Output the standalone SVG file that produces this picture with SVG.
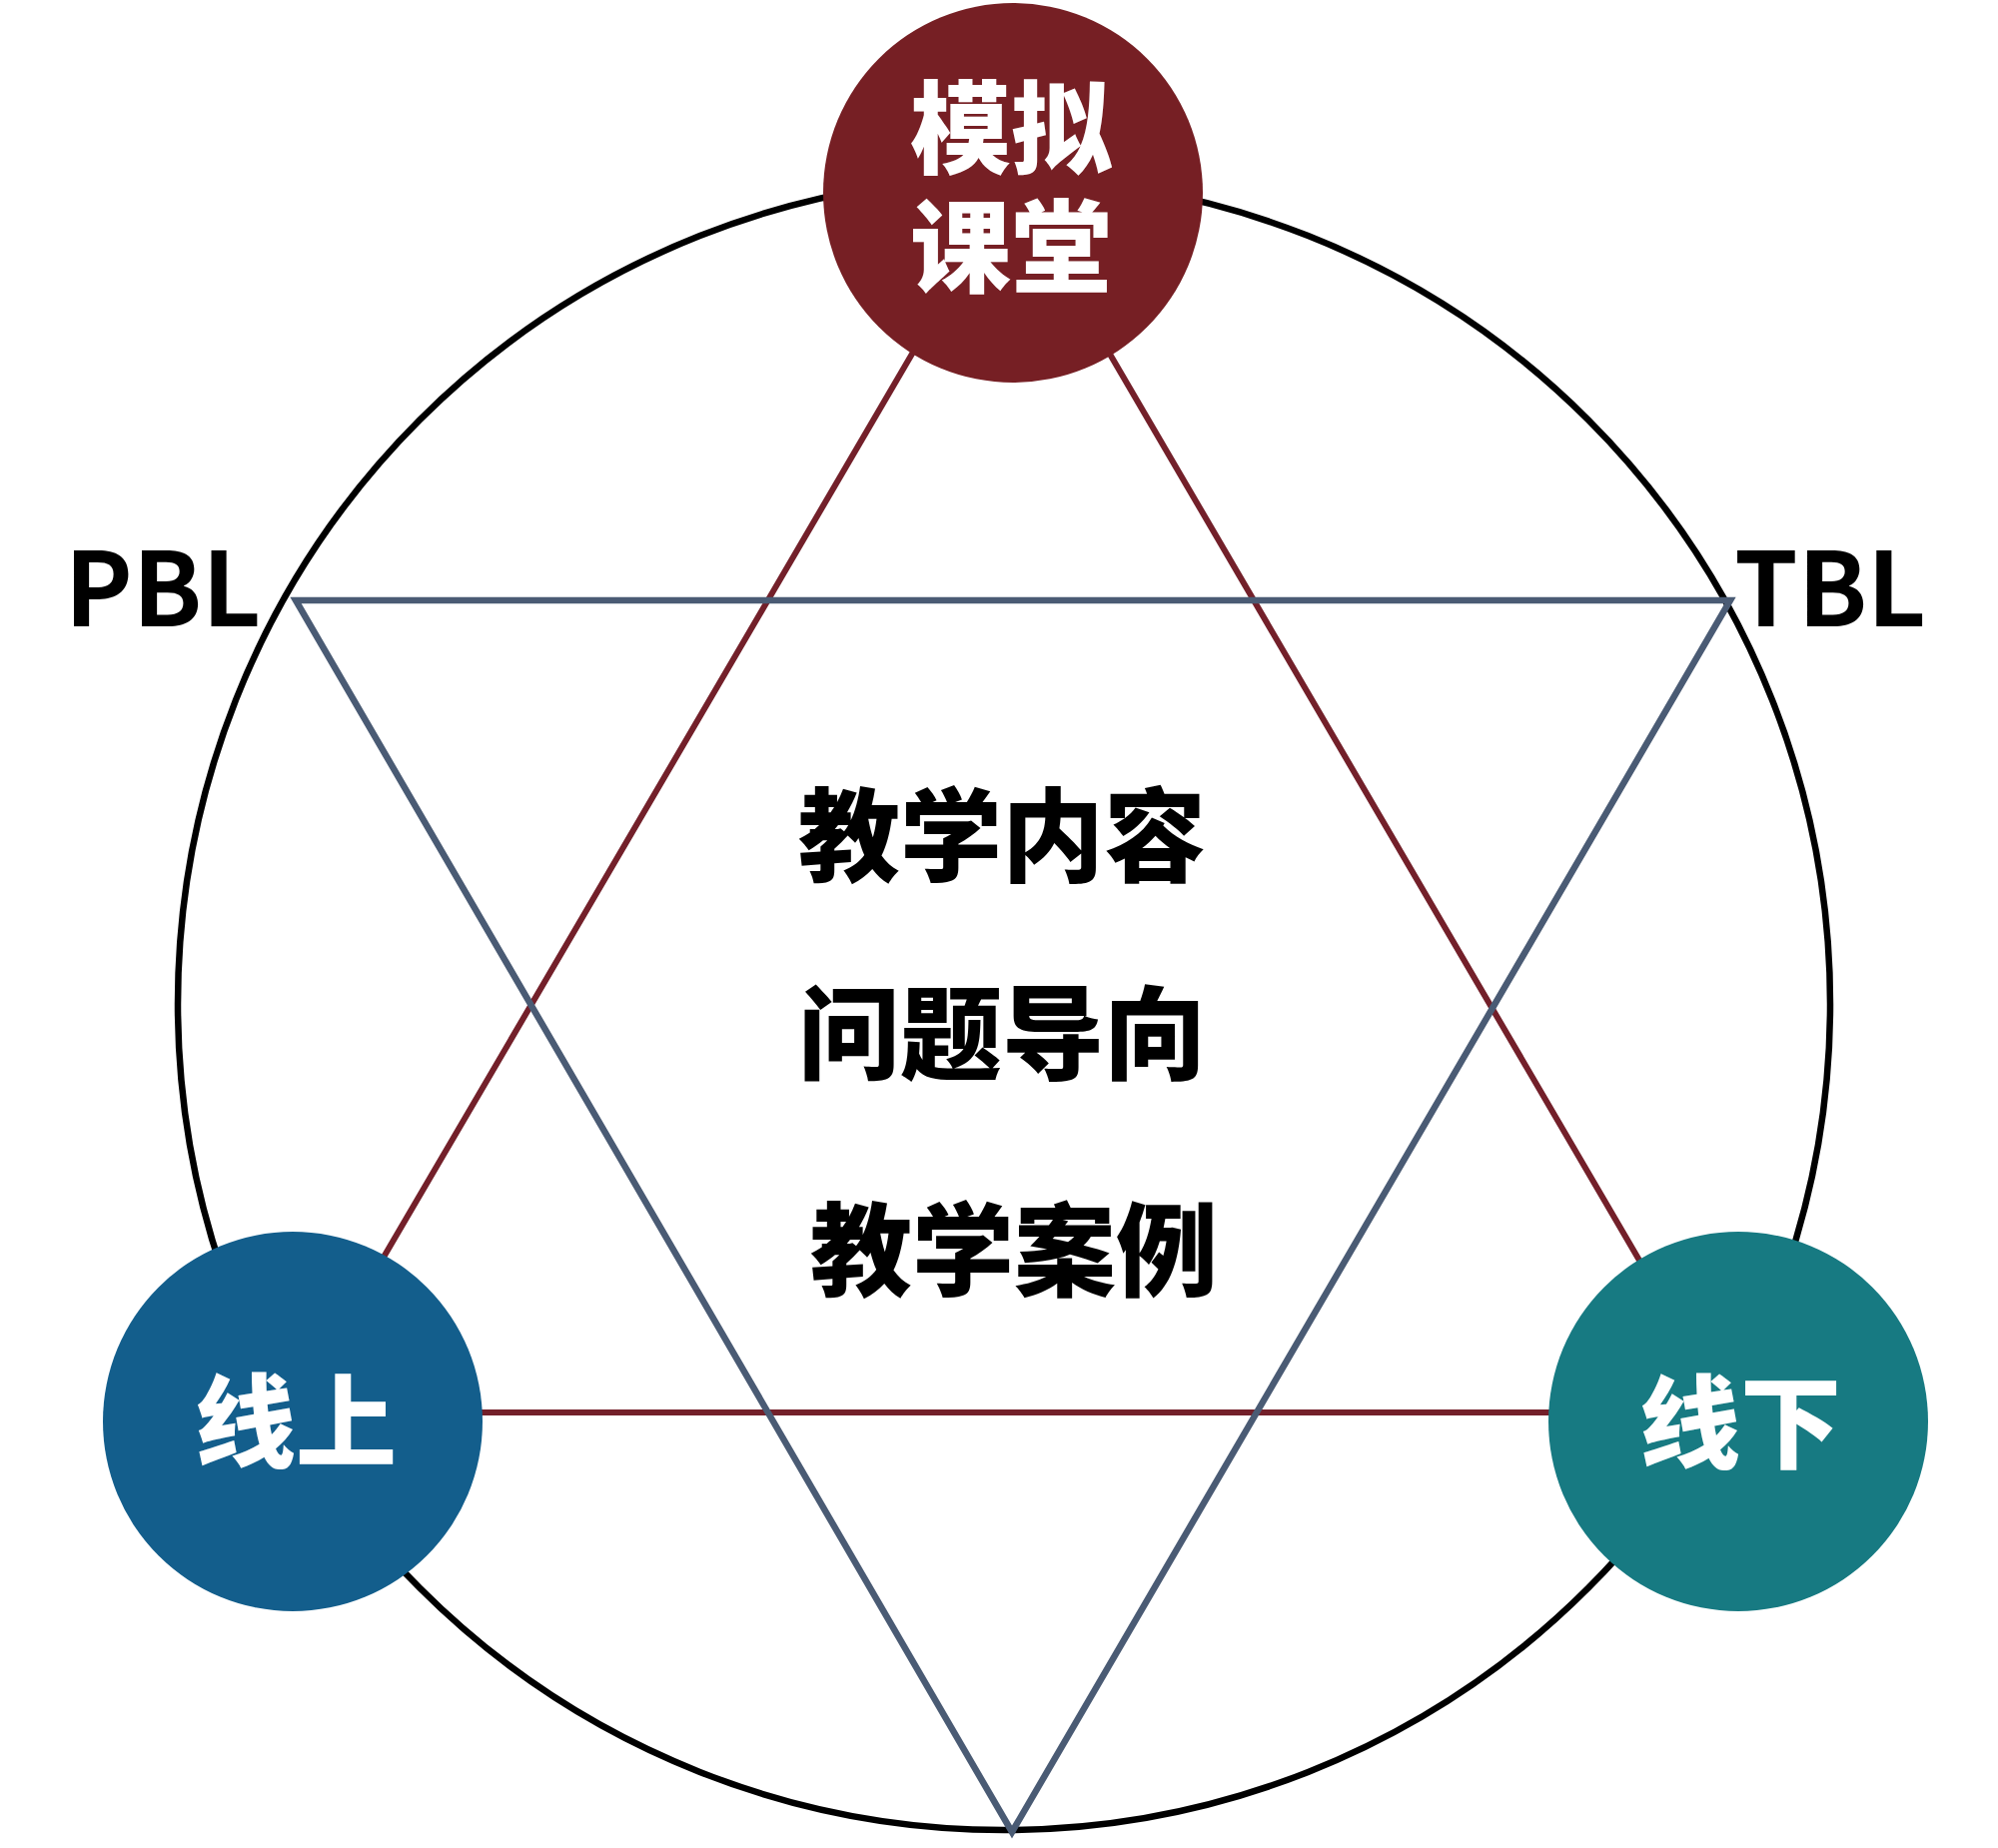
<svg xmlns="http://www.w3.org/2000/svg" width="2000" height="1850" viewBox="0 0 2000 1850">
<style>
.t{font-family:"Noto Sans CJK SC","Noto Sans",sans-serif;font-weight:900;text-anchor:middle}
.w{fill:#ffffff;font-size:101px}
.k{fill:#000000;font-size:102px}
.lab{fill:#000000;font-size:102px;font-weight:700}
.blue{fill:none;stroke:#4a5b74;stroke-width:6.5;stroke-linejoin:miter}
.red{fill:none;stroke:#73202a;stroke-width:6}
</style>
<rect width="2000" height="1850" fill="#ffffff"/>
<g id="connectors">
<circle cx="1005" cy="1005" r="827" fill="none" stroke="#000000" stroke-width="6.5"/>
<polygon class="red" points="1012,185 293,1414 1730,1414"/>
<polygon class="blue" points="296,601 1732,601 1013,1834"/>
</g>
<g id="node-top">
<circle cx="1014" cy="193" r="190" fill="#761f24"/>
<text class="t w" x="1012" y="166"><tspan x="1012" y="166">模拟</tspan><tspan x="1012" y="285">课堂</tspan></text>
</g>
<g id="node-left">
<circle cx="293" cy="1423" r="190" fill="#135e8c"/>
<text class="t w" x="296" y="1461">线上</text>
</g>
<g id="node-right">
<circle cx="1740" cy="1423" r="190" fill="#177a82"/>
<text class="t w" x="1742" y="1462">线下</text>
</g>
<g id="center">
<text class="t k" x="1003" y="875">教学内容</text>
<text class="t k" x="1003" y="1073">问题导向</text>
<text class="t k" x="1015" y="1290">教学案例</text>
</g>
<g id="labels">
<text class="t lab" x="163" y="627">PBL</text>
<text class="t lab" x="1832" y="627">TBL</text>
</g>
</svg>
